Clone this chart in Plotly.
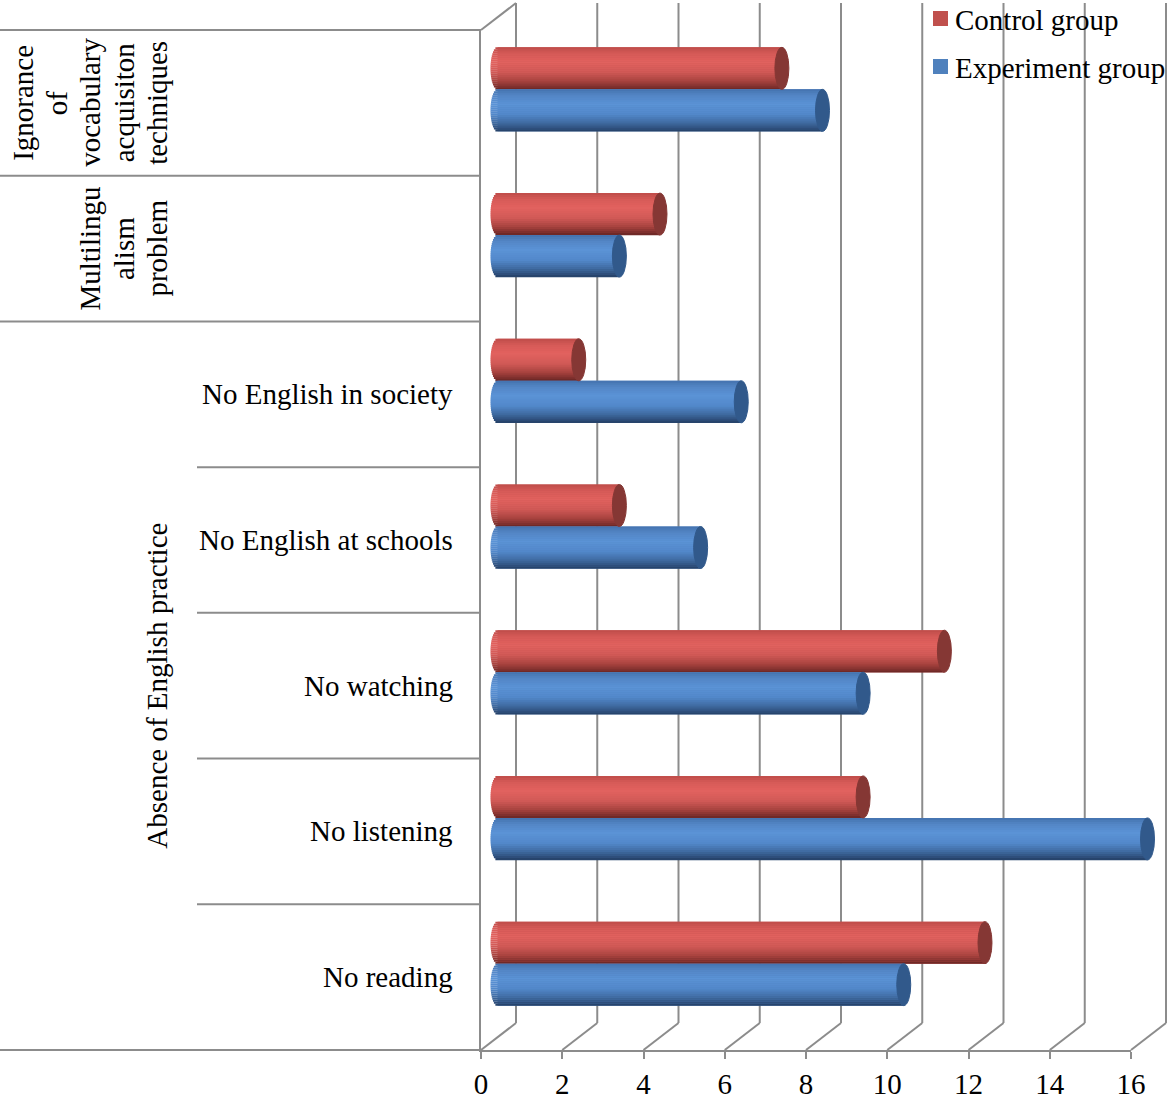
import math
import plotly.graph_objects as go

# ---- data -------------------------------------------------------------
# categories listed top to bottom
inner_labels = ["", "", "No English in society", "No English at schools",
                "No watching", "No listening", "No reading"]
# outer group labels: (wrapped lines, first category index, last category index)
group_labels = [
    (["Ignorance", "of", "vocabulary", "acquisiton", "techniques"], 0, 0),
    (["Multilingu", "alism", "problem"], 1, 1),
    (["Absence of English practice"], 2, 6),
]
series_names = ["Control group", "Experiment group"]
control_group = [7, 4, 2, 3, 11, 9, 12]
experiment_group = [8, 3, 6, 5, 9, 16, 10]
x_ticks = [0, 2, 4, 6, 8, 10, 12, 14, 16]

# ---- geometry (pixels) -----------------------------------------------
W, H = 1168, 1102
FX0, FX1 = 481, 1131          # front floor edge: value 0 .. 16
FTOP, FBOT = 30, 1050         # front category area
DDX, DDY = 35, 27             # depth of the 3-D box
BDX, BDY = 16.5, 13.5         # cylinders sit half way into the box
XMAX = 16
PPU = (FX1 - FX0) / XMAX      # pixels per value unit
NCAT = len(inner_labels)
BAND = (FBOT - FTOP) / NCAT   # pixels per category band
BAR_PX = 42
CAP_PX = 7
GRID = "#8c8c8c"
FONT = "Liberation Serif"
FS = 29


def pxx(p):
    return p / W


def pxy(p):
    return (H - p) / H


fig = go.Figure()

# ---- cylinders --------------------------------------------------------
bar_w = BAR_PX / BAND          # in category units
cap_u = CAP_PX / PPU           # in value units
N_STRIPS = 21

red_stops = [(0.0, (190, 76, 73)), (0.15, (214, 90, 87)), (0.35, (226, 98, 95)),
             (0.6, (208, 89, 86)), (0.8, (168, 67, 63)), (0.94, (124, 46, 44)),
             (1.0, (104, 38, 36))]
blue_stops = [(0.0, (68, 114, 174)), (0.15, (83, 134, 198)), (0.35, (91, 147, 214)),
              (0.6, (82, 136, 202)), (0.8, (63, 106, 160)), (0.94, (44, 76, 120)),
              (1.0, (36, 63, 100))]


def shade(stops, t):
    for (t0, c0), (t1, c1) in zip(stops, stops[1:]):
        if t <= t1:
            f = (t - t0) / (t1 - t0)
            return "rgb(%d,%d,%d)" % tuple(round(a + (b - a) * f) for a, b in zip(c0, c1))
    return "rgb(%d,%d,%d)" % stops[-1][1]


positions = list(range(NCAT))
series = [
    (series_names[0], control_group, "#c0504d", red_stops, "#853734", -bar_w),
    (series_names[1], experiment_group, "#4f81bd", blue_stops, "#31598b", 0.0),
]

for name, vals, base_col, stops, cap_col, off in series:
    # solid core of the cylinder
    fig.add_trace(go.Bar(
        y=positions, x=vals, base=0, orientation="h", width=bar_w, offset=off,
        marker=dict(color=base_col, line=dict(width=0)), name=name,
        xaxis="x3", yaxis="y3", hoverinfo="skip"))
    # thin horizontal strips give the rounded shading and the rounded back end
    for i in range(N_STRIPS):
        tc = (i + 0.5) / N_STRIPS
        e = cap_u * math.sqrt(max(0.0, 1 - (2 * tc - 1) ** 2))
        fig.add_trace(go.Bar(
            y=positions, x=[v + e for v in vals], base=[-e] * len(vals),
            orientation="h", width=bar_w / N_STRIPS * 1.1,
            offset=off + i * bar_w / N_STRIPS,
            marker=dict(color=shade(stops, tc), line=dict(width=0)),
            name=name, xaxis="x3", yaxis="y3", hoverinfo="skip"))
    # elliptical end caps
    for p, v in zip(positions, vals):
        fig.add_shape(type="circle", xref="x3", yref="y3",
                      x0=v - cap_u, x1=v + cap_u, y0=p + off, y1=p + off + bar_w,
                      fillcolor=cap_col, line=dict(color=cap_col, width=1),
                      layer="above")

# ---- 3-D box lines ----------------------------------------------------
shapes = []
line = dict(color=GRID, width=2)
for t in x_ticks:
    x0 = FX0 + t * PPU
    # floor diagonal from the front tick to the back wall
    shapes.append(dict(type="line", xref="paper", yref="paper",
                       x0=pxx(x0), y0=pxy(FBOT), x1=pxx(x0 + DDX), y1=pxy(FBOT - DDY),
                       line=line, layer="below"))
    # back wall gridline
    shapes.append(dict(type="line", xref="paper", yref="paper",
                       x0=pxx(x0 + DDX), y0=pxy(FBOT - DDY),
                       x1=pxx(x0 + DDX), y1=pxy(FTOP - DDY),
                       line=line, layer="below"))
# left wall top edge
shapes.append(dict(type="line", xref="paper", yref="paper",
                   x0=pxx(FX0), y0=pxy(FTOP), x1=pxx(FX0 + DDX), y1=pxy(FTOP - DDY),
                   line=line, layer="below"))
# category separators on the left
bounds = [FTOP + k * BAND for k in range(NCAT + 1)]
outer_edges = {0, 1, 2, NCAT}
for k, yb in enumerate(bounds):
    xs = 0 if k in outer_edges else 197
    shapes.append(dict(type="line", xref="paper", yref="paper",
                       x0=pxx(xs), y0=pxy(yb), x1=pxx(FX0), y1=pxy(yb),
                       line=line, layer="below"))

# ---- legend (top right) -----------------------------------------------
annotations = []
LEG_X, LEG_Y0, LEG_DY, SQ = 933, 18.5, 48, 15
for k, (name, _, col, _, _, _) in enumerate(series):
    yc = LEG_Y0 + k * LEG_DY
    shapes.append(dict(type="rect", xref="paper", yref="paper",
                       x0=pxx(LEG_X), x1=pxx(LEG_X + SQ),
                       y0=pxy(yc - SQ / 2), y1=pxy(yc + SQ / 2),
                       fillcolor=col, line=dict(width=0), layer="above"))
    annotations.append(dict(text=name, xref="paper", yref="paper",
                            x=pxx(LEG_X + SQ + 5), y=pxy(yc + 1),
                            xanchor="left", yanchor="middle", showarrow=False,
                            font=dict(family=FONT, size=FS, color="black")))
fig.update_layout(shapes=list(fig.layout.shapes) + shapes)

# ---- category labels --------------------------------------------------
for p, lab in zip(positions, inner_labels):
    if lab:
        annotations.append(dict(text=lab, xref="paper", yref="y2", x=pxx(455), y=p,
                                xanchor="right", yanchor="middle", showarrow=False,
                                font=dict(family=FONT, size=FS, color="black")))
LINE_GAP = 33.5
for lines, first, last in group_labels:
    n = len(lines)
    for j, txt in enumerate(lines):
        annotations.append(dict(text=txt, xref="paper", yref="y2",
                                x=pxx(157 - LINE_GAP * (n - 1 - j)), y=(first + last) / 2,
                                textangle=-90, xanchor="center", yanchor="middle",
                                showarrow=False,
                                font=dict(family=FONT, size=FS, color="black")))

# ---- axes -------------------------------------------------------------
fig.update_layout(
    # front axis with the value ticks
    xaxis2=dict(domain=[pxx(FX0), pxx(FX1)], range=[0, XMAX], tickvals=x_ticks,
                ticks="outside", ticklen=7, tickwidth=2, tickcolor=GRID,
                showline=True, linecolor=GRID, linewidth=2, showgrid=False,
                zeroline=False, anchor="y2",
                tickfont=dict(family=FONT, size=FS, color="black"), fixedrange=True),
    yaxis2=dict(domain=[pxy(FBOT), pxy(FTOP)], range=[NCAT - 0.5, -0.5],
                showline=True, linecolor=GRID, linewidth=2, showgrid=False,
                zeroline=False, showticklabels=False, ticks="", anchor="x2",
                fixedrange=True),
    # cylinders
    xaxis3=dict(domain=[pxx(FX0 + BDX - 0.5 * PPU), pxx(FX0 + BDX + (XMAX + 0.5) * PPU)],
                range=[-0.5, XMAX + 0.5], visible=False, anchor="y3", fixedrange=True),
    yaxis3=dict(domain=[pxy(FBOT - BDY), pxy(FTOP - BDY)], range=[NCAT - 0.5, -0.5],
                visible=False, anchor="x3", fixedrange=True),
)

fig.update_layout(
    width=W, height=H, margin=dict(l=0, r=0, t=0, b=0, autoexpand=False),
    paper_bgcolor="white", plot_bgcolor="rgba(0,0,0,0)",
    barmode="overlay", annotations=annotations, showlegend=False,
    font=dict(family=FONT, size=FS, color="black"),
)

fig.write_html("out.html", config={"displayModeBar": False})
